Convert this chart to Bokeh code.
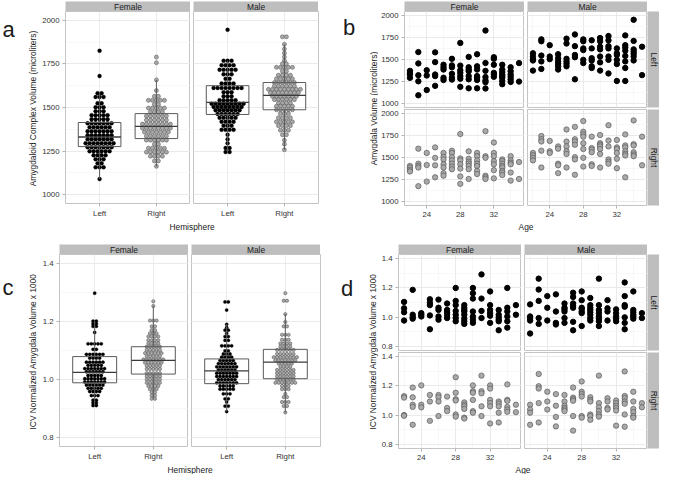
import math
from bokeh.plotting import figure
from bokeh.layouts import row, column
from bokeh.models import Spacer, Range1d, FixedTicker, SingleIntervalTicker, PrintfTickFormatter, Grid
from bokeh.embed import file_html
from bokeh.resources import INLINE
from bokeh.core.properties import value

# ---------------- data ----------------
sexes = ["Female", "Male"]
hemispheres = ["Left", "Right"]
ages = list(range(22, 36))

# panel a: dot-plot rows (bin value, number of dots)
a_female_left_bins = [1825, 1680, 1582, 1560, 1525, 1502, 1479, 1456, 1433, 1410, 1387, 1364, 1341, 1318, 1295, 1272, 1249, 1226, 1203, 1180, 1157, 1090]
a_female_left_counts = [1, 1, 2, 3, 2, 3, 3, 5, 5, 7, 6, 7, 7, 7, 8, 7, 6, 4, 3, 2, 3, 1]
a_female_right_bins = [1789, 1757, 1658, 1597, 1564, 1541, 1518, 1497, 1474, 1451, 1428, 1405, 1382, 1359, 1336, 1313, 1290, 1267, 1244, 1221, 1194, 1163]
a_female_right_counts = [1, 1, 1, 1, 2, 5, 2, 5, 4, 6, 6, 8, 8, 7, 6, 6, 2, 5, 6, 4, 2, 1]
a_male_left_bins = [1945, 1768, 1742, 1716, 1690, 1664, 1638, 1612, 1588, 1564, 1542, 1522, 1503, 1484, 1463, 1441, 1418, 1396, 1372, 1344, 1318, 1295, 1268, 1245]
a_male_left_counts = [1, 3, 4, 5, 3, 2, 4, 8, 3, 3, 5, 9, 8, 7, 6, 5, 4, 3, 4, 1, 1, 1, 2, 2]
a_male_right_bins = [1905, 1862, 1835, 1811, 1789, 1768, 1750, 1730, 1707, 1685, 1664, 1643, 1623, 1604, 1585, 1564, 1545, 1526, 1507, 1487, 1465, 1441, 1418, 1396, 1370, 1344, 1313, 1290, 1258]
a_male_right_counts = [2, 1, 1, 1, 1, 1, 2, 5, 2, 4, 5, 6, 6, 9, 8, 7, 6, 4, 5, 5, 3, 4, 5, 4, 3, 2, 1, 1, 1]
# box stats: lower whisker, Q1, median, Q3, upper whisker
a_female_left_box = [1090, 1276, 1331, 1414, 1582]
a_female_right_box = [1163, 1322, 1392, 1465, 1658]
a_male_left_box = [1245, 1460, 1529, 1625, 1768]
a_male_right_box = [1258, 1487, 1570, 1643, 1862]

# panel c
c_female_left_bins = [1.297, 1.201, 1.192, 1.183, 1.162, 1.123, 1.104, 1.087, 1.074, 1.060, 1.049, 1.038, 1.027, 1.014, 1.003, 0.992, 0.981, 0.970, 0.959, 0.945, 0.929, 0.920, 0.911]
c_female_left_counts = [1, 2, 2, 2, 1, 5, 2, 6, 4, 6, 5, 7, 6, 5, 7, 7, 6, 5, 4, 3, 2, 2, 2]
c_female_right_bins = [1.269, 1.253, 1.203, 1.183, 1.170, 1.159, 1.148, 1.135, 1.124, 1.113, 1.102, 1.091, 1.080, 1.069, 1.058, 1.047, 1.036, 1.022, 1.011, 1.000, 0.989, 0.978, 0.967, 0.956, 0.945, 0.934]
c_female_right_counts = [1, 1, 3, 2, 2, 3, 4, 4, 4, 5, 5, 6, 5, 7, 6, 5, 5, 5, 5, 5, 5, 4, 3, 2, 2, 2]
c_male_left_bins = [1.267, 1.239, 1.190, 1.179, 1.170, 1.159, 1.148, 1.135, 1.116, 1.099, 1.088, 1.077, 1.066, 1.055, 1.044, 1.033, 1.022, 1.011, 1.000, 0.989, 0.978, 0.967, 0.951, 0.934, 0.923, 0.909, 0.890]
c_male_left_counts = [2, 1, 1, 1, 2, 1, 2, 2, 4, 2, 3, 4, 5, 6, 7, 6, 7, 7, 6, 7, 5, 5, 3, 2, 1, 2, 1]
c_male_right_bins = [1.297, 1.271, 1.225, 1.198, 1.183, 1.154, 1.137, 1.124, 1.113, 1.102, 1.088, 1.077, 1.066, 1.055, 1.044, 1.033, 1.022, 1.011, 1.000, 0.989, 0.978, 0.967, 0.951, 0.940, 0.923, 0.909, 0.887]
c_male_right_counts = [1, 2, 1, 1, 2, 3, 3, 4, 4, 6, 6, 8, 7, 5, 4, 6, 6, 6, 6, 7, 3, 3, 1, 2, 3, 2, 1]
c_female_left_box = [0.911, 0.989, 1.025, 1.079, 1.201]
c_female_right_box = [0.934, 1.019, 1.066, 1.113, 1.253]
c_male_left_box = [0.890, 0.986, 1.030, 1.071, 1.190]
c_male_right_box = [0.887, 1.003, 1.060, 1.104, 1.225]

# panel b: volumes by age (one list per age 22..35)
b_female_left = [[1370, 1345, 1330, 1290], [1585, 1455, 1320, 1250, 1090], [1377, 1317, 1150],
                 [1582, 1470, 1328, 1310, 1198], [1440, 1411, 1385, 1291, 1265], [1508, 1433, 1411, 1336, 1291, 1270],
                 [1690, 1430, 1377, 1347, 1310, 1280, 1187], [1530, 1411, 1385, 1366, 1310, 1273, 1170],
                 [1560, 1422, 1385, 1310, 1291, 1265, 1170], [1832, 1460, 1370, 1299, 1260, 1240, 1168],
                 [1526, 1508, 1440, 1347, 1328, 1302], [1440, 1385, 1355, 1328, 1310, 1291, 1254, 1217],
                 [1411, 1366, 1328, 1302, 1273, 1243], [1459, 1247]]
b_male_left = [[1571, 1534, 1504, 1489, 1373], [1731, 1709, 1545, 1478, 1392], [1664, 1534, 1504],
               [1560, 1515, 1478, 1452, 1422, 1385], [1739, 1683, 1508, 1478, 1452, 1422], [1787, 1653, 1552, 1526, 1273],
               [1731, 1709, 1627, 1608, 1496, 1459], [1720, 1627, 1515, 1489, 1422, 1403],
               [1746, 1709, 1646, 1616, 1534, 1467, 1373], [1769, 1720, 1653, 1627, 1534, 1496, 1340],
               [1627, 1571, 1552, 1496, 1448, 1254], [1776, 1664, 1638, 1601, 1541, 1478, 1403, 1254],
               [1955, 1713, 1616, 1590, 1564, 1534, 1489], [1646, 1321]]
b_female_right = [[1403, 1385, 1358, 1340], [1601, 1429, 1403, 1385, 1172], [1552, 1414, 1224],
                  [1616, 1496, 1411, 1273], [1552, 1508, 1478, 1422, 1385, 1321, 1291],
                  [1578, 1552, 1504, 1467, 1429, 1396, 1366], [1769, 1489, 1467, 1422, 1373, 1284, 1198],
                  [1571, 1485, 1452, 1429, 1403, 1366, 1254], [1552, 1515, 1467, 1429, 1403, 1347, 1310],
                  [1802, 1515, 1496, 1291, 1273, 1254], [1672, 1552, 1515, 1459, 1422, 1355, 1261],
                  [1478, 1459, 1429, 1403, 1385, 1347, 1328, 1299], [1515, 1467, 1440, 1422, 1328, 1235], [1448, 1254]]
b_male_right = [[1552, 1526, 1496, 1467], [1746, 1709, 1683, 1578, 1385], [1690, 1571, 1552],
                [1627, 1601, 1429, 1411, 1321], [1821, 1683, 1627, 1571, 1541, 1385],
                [1851, 1709, 1683, 1646, 1504, 1478, 1302], [1918, 1795, 1765, 1739, 1664, 1597, 1496, 1396],
                [1739, 1608, 1590, 1560, 1422, 1403], [1757, 1664, 1646, 1627, 1597, 1541, 1385],
                [1870, 1694, 1627, 1478, 1452, 1429], [1701, 1616, 1597, 1552, 1485, 1377],
                [1765, 1638, 1616, 1571, 1541, 1523, 1273], [1925, 1653, 1638, 1560, 1534, 1515], [1739, 1411]]

# panel d: ICV-normalised volumes by age
d_female_left = [[1.104, 1.060, 1.033, 0.976], [1.187, 1.016, 1.000, 0.989], [1.027, 1.016, 1.004],
                 [1.122, 1.098, 1.082, 1.011, 0.916], [1.120, 1.064, 1.049, 1.004, 0.982],
                 [1.093, 1.049, 1.033, 1.016, 0.993], [1.200, 1.111, 1.082, 1.042, 1.016, 0.993, 0.971],
                 [1.082, 1.064, 1.049, 1.038, 1.016, 0.989, 0.971, 0.953], [1.200, 1.164, 1.127, 1.038, 1.004, 0.982, 0.960],
                 [1.293, 1.127, 1.042, 0.993], [1.176, 1.082, 1.049, 1.027, 1.009, 0.960],
                 [1.049, 1.016, 0.998, 0.982, 0.971, 0.909], [1.200, 1.064, 1.038, 1.004, 0.971, 0.927], [1.082, 1.016]]
d_male_left = [[1.087, 1.004, 0.993, 0.976, 0.887], [1.264, 1.189, 1.111, 0.993, 0.953], [1.144, 1.064, 0.976],
               [1.156, 1.038, 0.960, 0.949], [1.093, 1.064, 1.053, 1.038, 0.993, 0.960],
               [1.167, 1.138, 1.093, 1.078, 1.064, 0.967, 0.909], [1.176, 1.116, 1.064, 1.056, 1.038, 1.027, 0.938],
               [1.131, 1.082, 1.064, 1.049, 1.033, 1.016, 0.993, 0.976], [1.264, 1.082, 1.049, 1.027, 1.004, 0.989, 0.971, 0.938],
               [1.116, 1.060, 1.038, 0.976], [1.053, 1.027, 1.004, 0.989, 0.971],
               [1.238, 1.144, 1.082, 1.071, 0.998, 0.960, 0.916], [1.176, 1.049, 1.033, 1.016, 1.004, 0.989], [1.027, 0.993]]
d_female_right = [[1.130, 1.120, 1.000, 0.995], [1.189, 1.122, 1.071, 1.056, 0.933], [1.204, 1.071, 1.053],
                  [1.138, 1.093, 0.960], [1.138, 1.122, 1.093, 0.993], [1.127, 1.049, 1.027],
                  [1.260, 1.153, 1.109, 1.100, 1.004, 0.989], [1.087, 1.071, 1.060, 1.042, 0.982, 0.976],
                  [1.204, 1.164, 1.153, 1.104, 1.027, 1.016], [1.271, 1.164, 1.149, 1.060, 0.993],
                  [1.204, 1.182, 1.104, 1.082, 1.060, 0.942], [1.093, 1.078, 1.060, 1.016, 0.949],
                  [1.211, 1.104, 1.098, 1.056, 1.038, 1.022], [1.071, 1.020]]
d_male_right = [[1.071, 1.038, 1.016, 0.933], [1.282, 1.198, 1.182, 1.082, 0.949], [1.160, 1.093, 1.038],
                [1.144, 1.064, 0.987, 0.922], [1.138, 1.093, 1.064, 1.049, 1.038, 1.027],
                [1.189, 1.120, 1.109, 1.098, 0.993, 0.893], [1.231, 1.160, 1.144, 1.127, 0.993, 0.982],
                [1.122, 1.104, 1.093, 1.004, 0.993, 0.967], [1.271, 1.082, 1.053, 1.027, 1.004, 0.989],
                [1.116, 1.093, 1.049, 1.038], [1.100, 1.082, 1.064, 1.049, 1.031, 0.927],
                [1.300, 1.131, 1.116, 1.093, 1.078, 1.004, 0.920], [1.160, 1.093, 1.042, 1.020, 0.993, 0.982], [1.082, 1.053]]

# ---------------- style ----------------
FONT = "Liberation Sans"
GREY_FILL = "#A9A9A9"
GREY_LINE = "#4A4A4A"
STRIP_FILL = "#BEBEBE"
BORDER = "#C4C4C4"
GRID_MAJ = "#E6E6E6"
GRID_MIN = "#F3F3F3"
TICK_COL = "#B3B3B3"
TXT = "#333333"
TITLE_COL = "#1A1A1A"
BOX_COL = "#5A5A5A"
TICK_FS = "7.8px"
TITLE_FS = "8.4px"


def base(width, height, xr, yr, left=0, right=0, top=0, bottom=0, xloc=None, yloc=None):
    p = figure(width=width, height=height, x_range=Range1d(*xr), y_range=Range1d(*yr),
               toolbar_location=None, output_backend="svg", x_axis_location=xloc, y_axis_location=yloc,
               min_border_left=left, min_border_right=right, min_border_top=top, min_border_bottom=bottom)
    p.border_fill_color = "white"
    p.background_fill_color = "white"
    return p


def text_fig(width, height, items):
    p = base(width, height, (0, width), (-height, 0))
    p.outline_line_color = None
    p.grid.visible = False
    for (x, y, t, size, ang, align, base_) in items:
        p.text(x=[x], y=[-y], text=[t], angle=ang, text_align=align, text_baseline=base_,
               text_font=value(FONT), text_font_size=size, text_color=TITLE_COL)
    return p


def strip_fig(width, height, label, vertical=False, bottom=0):
    p = base(width, height, (0, 1), (0, 1), bottom=bottom)
    p.outline_line_color = None
    p.grid.visible = False
    p.background_fill_color = STRIP_FILL
    p.text(x=[0.5], y=[0.5], text=[label], angle=(-math.pi / 2 if vertical else 0),
           text_align="center", text_baseline="middle", text_font=value(FONT),
           text_font_size=TITLE_FS, text_color=TITLE_COL)
    return p


def style_axis(ax, ticker, fmt=None, overrides=None):
    ax.ticker = ticker
    if fmt is not None:
        ax.formatter = fmt
    if overrides:
        ax.major_label_overrides = overrides
    ax.major_tick_in = 0
    ax.major_tick_out = 3
    ax.major_tick_line_color = TICK_COL
    ax.minor_tick_line_color = None
    ax.axis_line_color = None
    ax.major_label_text_font = FONT
    ax.major_label_text_font_size = TICK_FS
    ax.major_label_text_color = TXT
    ax.major_label_standoff = 2


def facet(width, height, xr, yr, left, right, bottom, xticker, yticker, xaxis, yaxis,
          xfmt=None, yfmt=None, xover=None):
    p = base(width, height, xr, yr, left=left, right=right, bottom=bottom,
             xloc=("below" if xaxis else None), yloc=("left" if yaxis else None))
    p.outline_line_color = BORDER
    p.outline_line_width = 1
    if len(p.xgrid) == 0:
        p.add_layout(Grid(dimension=0))
    if len(p.ygrid) == 0:
        p.add_layout(Grid(dimension=1))
    p.xgrid.ticker = xticker
    p.ygrid.ticker = yticker
    p.grid.grid_line_color = GRID_MAJ
    p.grid.grid_line_width = 0.8
    p.grid.minor_grid_line_color = GRID_MIN
    p.grid.minor_grid_line_width = 0.6
    if xaxis:
        style_axis(p.xaxis[0], xticker, xfmt, xover)
    if yaxis:
        style_axis(p.yaxis[0], yticker, yfmt)
    return p


def dot_positions(center, bins, counts, step):
    xs, ys = [], []
    for v, n in zip(bins, counts):
        for k in range(n):
            xs.append(center + (k - (n - 1) / 2.0) * step)
            ys.append(v)
    return xs, ys


def draw_box(p, center, stats, half=0.375):
    lo, q1, med, q3, hi = stats
    p.segment(x0=[center, center], x1=[center, center], y0=[q3, q1], y1=[hi, lo],
              line_color=BOX_COL, line_width=1)
    p.quad(left=[center - half], right=[center + half], bottom=[q1], top=[q3],
           fill_color=None, line_color=BOX_COL, line_width=1)
    p.segment(x0=[center - half], x1=[center + half], y0=[med], y1=[med], line_color="#3A3A3A", line_width=1.3)


def hemi_facet(width, left, right, frame_w, yaxis, yr, yticker, yfmt, groups, dot):
    xt = FixedTicker(ticks=[1, 2], minor_ticks=[])
    p = facet(width, 194 + 15, (0.4, 2.6), yr, left, right, 15, xt, yticker, True, yaxis,
              yfmt=yfmt, xover={1: hemispheres[0], 2: hemispheres[1]})
    step = dot / (frame_w / 2.2)
    for i, (bins, counts, box) in enumerate(groups):
        xs, ys = dot_positions(i + 1, bins, counts, step)
        if i == 0:
            p.scatter(xs, ys, size=dot, fill_color="black", line_color="black", line_width=0.3)
        else:
            p.scatter(xs, ys, size=dot, fill_color=GREY_FILL, line_color=GREY_LINE, line_width=0.5)
        draw_box(p, i + 1, box)
    return p


def age_facet(width, height, left, bottom, yr, yticker, yfmt, data, grey, xaxis, yaxis):
    xt = SingleIntervalTicker(interval=4, num_minor_ticks=2)
    p = facet(width, height, (21.35, 35.65), yr, left, 0, bottom, xt, yticker, xaxis, yaxis,
              xfmt=PrintfTickFormatter(format="%d"), yfmt=yfmt)
    xs = [a for a, vals in zip(ages, data) for _ in vals]
    ys = [v for vals in data for v in vals]
    if grey:
        p.scatter(xs, ys, size=5.4, fill_color=GREY_FILL, line_color=GREY_LINE, line_width=0.6)
    else:
        p.scatter(xs, ys, size=5.4, fill_color="black", line_color="black")
    return p


vol_ticker = SingleIntervalTicker(interval=250, num_minor_ticks=2)
norm_ticker = SingleIntervalTicker(interval=0.2, num_minor_ticks=2)
vol_fmt = PrintfTickFormatter(format="%d")
norm_fmt = PrintfTickFormatter(format="%.1f")
VOL_R = (950, 2050)
NORM_R = (0.77, 1.43)
HALF = math.pi / 2

# ---------------- quadrant a ----------------
leftA = text_fig(39, 237, [(8, 29, "a", "22px", 0, "center", "alphabetic"),
                           (32, 108, "Amygdaloid Complex Volume (microliters)", TITLE_FS, HALF, "center", "middle")])
stripsA = row(Spacer(width=26, height=11), strip_fig(125, 11, sexes[0]), Spacer(width=3, height=11),
              strip_fig(125, 11, sexes[1]), Spacer(width=9, height=11))
aF = hemi_facet(151, 26, 0, 125, True, VOL_R, vol_ticker, vol_fmt,
                [(a_female_left_bins, a_female_left_counts, a_female_left_box),
                 (a_female_right_bins, a_female_right_counts, a_female_right_box)], 4.0)
aM = hemi_facet(137, 3, 9, 125, False, VOL_R, vol_ticker, vol_fmt,
                [(a_male_left_bins, a_male_left_counts, a_male_left_box),
                 (a_male_right_bins, a_male_right_counts, a_male_right_box)], 4.0)
titleA = text_fig(288, 17, [(152.5, 6, "Hemisphere", TITLE_FS, 0, "center", "middle")])
qa = row(leftA, column(stripsA, row(aF, aM), titleA))

# ---------------- quadrant b ----------------
leftB = text_fig(51, 237, [(21.5, 27, "b", "22px", 0, "center", "alphabetic"),
                           (46, 108, "Amygdala Volume (microliters)", TITLE_FS, HALF, "center", "middle")])
stripsB = row(Spacer(width=26, height=11), strip_fig(120, 11, sexes[0]), Spacer(width=3, height=11),
              strip_fig(120, 11, sexes[1]), Spacer(width=12, height=11))
bFL = age_facet(146, 98, 26, 2, VOL_R, vol_ticker, vol_fmt, b_female_left, False, False, True)
bML = age_facet(123, 98, 3, 2, VOL_R, vol_ticker, vol_fmt, b_male_left, False, False, False)
bFR = age_facet(146, 111, 26, 15, VOL_R, vol_ticker, vol_fmt, b_female_right, True, True, True)
bMR = age_facet(123, 111, 3, 15, VOL_R, vol_ticker, vol_fmt, b_male_right, True, True, False)
titleB = text_fig(281, 17, [(147.5, 6, "Age", TITLE_FS, 0, "center", "middle")])
qb = row(leftB, column(stripsB,
                       row(bFL, bML, strip_fig(12, 98, hemispheres[0], True, bottom=2)),
                       row(bFR, bMR, strip_fig(12, 111, hemispheres[1], True, bottom=15)),
                       titleB))

# ---------------- quadrant c ----------------
leftC = text_fig(39, 237, [(7.5, 50, "c", "22px", 0, "center", "alphabetic"),
                           (32, 114, "ICV Normalized Amygdala Volume x 1000", TITLE_FS, HALF, "center", "middle")])
stripsC = row(Spacer(width=20, height=11), strip_fig(129, 11, sexes[0]), Spacer(width=3, height=11),
              strip_fig(129, 11, sexes[1]), Spacer(width=7, height=11))
cF = hemi_facet(149, 20, 0, 129, True, NORM_R, norm_ticker, norm_fmt,
                [(c_female_left_bins, c_female_left_counts, c_female_left_box),
                 (c_female_right_bins, c_female_right_counts, c_female_right_box)], 3.3)
cM = hemi_facet(139, 3, 7, 129, False, NORM_R, norm_ticker, norm_fmt,
                [(c_male_left_bins, c_male_left_counts, c_male_left_box),
                 (c_male_right_bins, c_male_right_counts, c_male_right_box)], 3.3)
titleC = text_fig(288, 11, [(150.5, 5.5, "Hemisphere", TITLE_FS, 0, "center", "middle")])
qc = row(leftC, column(Spacer(width=288, height=6), stripsC, row(cF, cM), titleC))

# ---------------- quadrant d ----------------
leftD = text_fig(51, 237, [(19.5, 51, "d", "22px", 0, "center", "alphabetic"),
                           (45.5, 114, "ICV Normalized Amygdala Volume x 1000", TITLE_FS, HALF, "center", "middle")])
stripsD = row(Spacer(width=20, height=11), strip_fig(123, 11, sexes[0]), Spacer(width=3, height=11),
              strip_fig(123, 11, sexes[1]), Spacer(width=12, height=11))
dFL = age_facet(143, 98, 20, 2, NORM_R, norm_ticker, norm_fmt, d_female_left, False, False, True)
dML = age_facet(126, 98, 3, 2, NORM_R, norm_ticker, norm_fmt, d_male_left, False, False, False)
dFR = age_facet(143, 111, 20, 15, NORM_R, norm_ticker, norm_fmt, d_female_right, True, True, True)
dMR = age_facet(126, 111, 3, 15, NORM_R, norm_ticker, norm_fmt, d_male_right, True, True, False)
titleD = text_fig(281, 11, [(144.5, 5.5, "Age", TITLE_FS, 0, "center", "middle")])
qd = row(leftD, column(Spacer(width=281, height=6), stripsD,
                       row(dFL, dML, strip_fig(12, 98, hemispheres[0], True, bottom=2)),
                       row(dFR, dMR, strip_fig(12, 111, hemispheres[1], True, bottom=15)),
                       titleD))

layout = column(row(qa, qb), row(qc, qd))

with open("out.html", "w") as f:
    f.write(file_html(layout, INLINE))
